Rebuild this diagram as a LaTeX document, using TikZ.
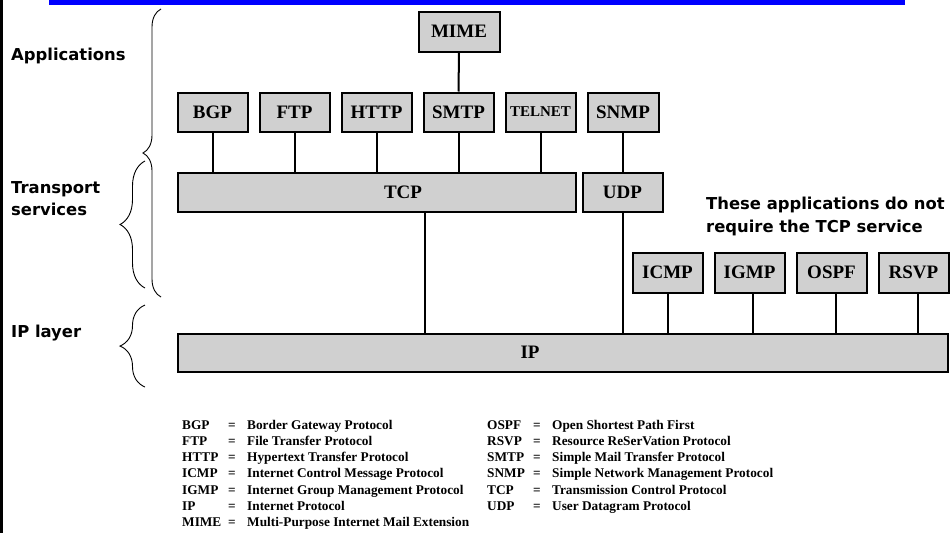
\documentclass[tikz,border=0pt]{standalone}
\usepackage{fontspec}
\setmainfont{Liberation Serif}
\newfontfamily\labfont{DejaVu Sans}
\usetikzlibrary{decorations.pathreplacing}
\definecolor{boxgray}{RGB}{208,208,208}
\definecolor{barblue}{RGB}{0,0,255}
\begin{document}
\begin{tikzpicture}[x=1pt,y=-1pt,
  proto/.style={draw=black, line width=2pt, fill=boxgray, inner sep=0pt,
    minimum width=70pt, minimum height=39pt, font=\fontsize{19}{19}\selectfont\bfseries},
  link/.style={line width=2pt},
  brc/.style={decorate, decoration={brace, amplitude=#1}, line width=0.9pt},
  side/.style={font=\labfont\fontsize{16.4}{16.4}\selectfont\bfseries, anchor=base west, inner sep=0pt},
  legend/.style={font=\fontsize{13.3}{13.3}\selectfont\bfseries, anchor=base west, inner sep=0pt}]
\useasboundingbox (0,0) rectangle (950,533);
\fill[white] (0,0) rectangle (950,533);
% frame pieces
\fill[barblue] (49,0) rectangle (905,5);
\fill[black] (0,0) rectangle (2.7,533);
% boxes
\node[proto, minimum width=81pt, minimum height=40pt] (mime) at (459,31.5) {MIME};
\node[proto] (bgp) at (212.5,112) {BGP};
\node[proto] (ftp) at (294.5,112) {FTP};
\node[proto] (http) at (376.5,112) {HTTP};
\node[proto] (smtp) at (458.5,112) {SMTP};
\node[proto, font=\fontsize{15}{15}\selectfont\bfseries] (telnet) at (540.5,112) {TELNET};
\node[proto, minimum width=71pt] (snmp) at (623,112) {SNMP};
\node[proto, minimum width=398pt] (tcp) at (376.5,192) {\hspace*{53pt}TCP};
\node[proto, minimum width=80pt] (udp) at (622.5,192) {UDP};
\node[proto, minimum width=770pt, minimum height=38pt] (ip) at (562.5,352.5) {IP\hspace*{65pt}};
\node[proto, minimum height=40pt] (icmp) at (667.5,272.5) {ICMP};
\node[proto, minimum height=40pt] (igmp) at (749.5,272.5) {IGMP};
\node[proto, minimum height=40pt] (ospf) at (831.5,272.5) {OSPF};
\node[proto, minimum height=40pt] (rsvp) at (913.5,272.5) {RSVP};
% connectors
\draw[link] (mime.south) -- (smtp.north);
\foreach \n in {bgp,ftp,http,smtp,telnet}
  \draw[link] (\n.south) -- (\n.south |- tcp.north);
\draw[link] (snmp.south) -- (snmp.south |- udp.north);
\coordinate (tcpdown) at (425,0);
\draw[link] (tcp.south -| tcpdown) -- (ip.north -| tcpdown);
\draw[link] (udp.south) -- (udp.south |- ip.north);
\draw[link] (icmp.south) -- (icmp.south |- ip.north);
\draw[link] ([xshift=3.5pt]igmp.south) -- ([xshift=3.5pt]igmp.south |- ip.north);
\draw[link] ([xshift=4pt]ospf.south) -- ([xshift=4pt]ospf.south |- ip.north);
\draw[link] ([xshift=4pt]rsvp.south) -- ([xshift=4pt]rsvp.south |- ip.north);
% braces
\draw[brc=18pt] (161,297) -- (161,9);
\draw[brc=25pt] (145,288) -- (145,161);
\draw[brc=25pt] (145,387) -- (145,305);
% side labels
\node[side] (lapp) at (11,60) {Applications};
\node[side] (ltr1) at (11,193) {Transport};
\node[side] (ltr2) at (11,215) {services};
\node[side] (lip) at (11,337) {IP layer};
\node[side] (note1) at (706,209) {These applications do not};
\node[side] (note2) at (706,232) {require the TCP service};
% legend
\foreach \ab/\df [count=\i from 0] in {BGP/Border Gateway Protocol, FTP/File Transfer Protocol,
  HTTP/Hypertext Transfer Protocol, ICMP/Internet Control Message Protocol,
  IGMP/Internet Group Management Protocol, IP/Internet Protocol,
  MIME/Multi-Purpose Internet Mail Extension}{
  \node[legend] (la\i) at (182,{429+16.3*\i}) {\ab};
  \node[legend] (le\i) at (228,{429+16.3*\i}) {=};
  \node[legend] (ld\i) at (247,{429+16.3*\i}) {\df};
}
\foreach \ab/\df [count=\i from 0] in {OSPF/Open Shortest Path First, RSVP/Resource ReSerVation Protocol,
  SMTP/Simple Mail Transfer Protocol, SNMP/Simple Network Management Protocol,
  TCP/Transmission Control Protocol, UDP/User Datagram Protocol}{
  \node[legend] (ra\i) at (487,{429+16.3*\i}) {\ab};
  \node[legend] (re\i) at (533,{429+16.3*\i}) {=};
  \node[legend] (rd\i) at (552,{429+16.3*\i}) {\df};
}
\end{tikzpicture}
\end{document}
